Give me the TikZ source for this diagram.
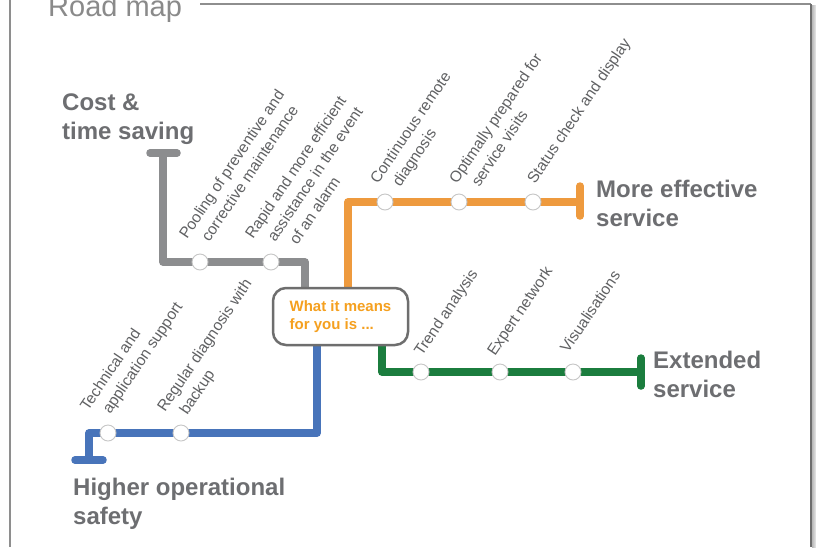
\documentclass[tikz,border=0pt]{standalone}
\usepackage{fontspec}
\setmainfont{Liberation Sans}
\usetikzlibrary{backgrounds}
\definecolor{cgray}{HTML}{8C8D8F}
\definecolor{corange}{HTML}{EE9A3E}
\definecolor{cblue}{HTML}{4874BA}
\definecolor{cgreen}{HTML}{1B7D3E}
\definecolor{stnborder}{HTML}{C6C6C6}
\definecolor{lbltext}{HTML}{606163}
\definecolor{goaltext}{HTML}{6D6E71}
\definecolor{hubtext}{HTML}{F5A01F}
\definecolor{hubborder}{HTML}{6E6E6E}
\definecolor{titlegray}{HTML}{8A8A8A}
\definecolor{framegray}{HTML}{8E8E8E}
\tikzset{
  metro/.style={line width=7.5pt, line join=round},
  tbar/.style={line width=7.5pt, line cap=round},
  stn/.style={circle, minimum size=16pt, inner sep=0pt, fill=white, draw=stnborder, line width=0.9pt},
  lbl/.style={rotate=56, anchor=base west, inner sep=0pt, text=lbltext, font=\fontsize{15.5}{20}\selectfont},
  goal/.style={anchor=base west, inner sep=0pt, text=goaltext, font=\fontsize{24}{29}\selectfont\bfseries},
  hub/.style={rounded corners=13pt, draw=hubborder, line width=2.5pt, fill=white, minimum width=135pt, minimum height=57pt, align=left, inner sep=0pt, text=hubtext, font=\fontsize{15}{18}\selectfont\bfseries},
}
\begin{document}
\begin{tikzpicture}[x=1pt,y=-1pt]
\useasboundingbox (0,0) rectangle (816,547);
% frame
\coordinate (fTL) at (10,0);
\coordinate (fBL) at (10,547);
\coordinate (fT1) at (200,4);
\coordinate (fTR) at (811,4);
\coordinate (fBR) at (811,547);
\draw[framegray, line width=1.2pt] (fTL) -- (fBL);
\draw[framegray, line width=1.2pt] (fT1) -- (fTR);
\shade[left color=gray!55, right color=gray!15] (812,5) rectangle (816,547);
\draw[hubborder, line width=1.6pt] (fTR) -- (fBR);
\node[anchor=base west, inner sep=0pt, font=\fontsize{29}{30}\selectfont, text=titlegray] (title) at (48,16) {Road map};

% hub
\node[hub] (hub) at (340.5,316.5) {What it means\\for you is ...};

% line coordinates
\coordinate (g1) at (305,262);
\coordinate (g2) at (163,262);
\coordinate (g3) at (163,153);
\coordinate (gL) at (150,153);
\coordinate (gR) at (177,153);
\coordinate (o1) at (348,202);
\coordinate (o2) at (580,202);
\coordinate (oT) at (580,186);
\coordinate (oB) at (580,216);
\coordinate (b1) at (317,433);
\coordinate (b2) at (89,433);
\coordinate (b3) at (89,460);
\coordinate (bL) at (75,460);
\coordinate (bR) at (103,460);
\coordinate (e1) at (382,372);
\coordinate (e2) at (641,372);
\coordinate (eT) at (641,358);
\coordinate (eB) at (641,386);

\begin{scope}[on background layer]
\fill[white] (0,0) rectangle (816,547);
\draw[metro, cgray] (hub.north -| g1) -- (g1) -- (g2) -- (g3);
\draw[tbar, cgray] (gL) -- (gR);
\draw[metro, corange] (hub.north -| o1) -- (o1) -- (o2);
\draw[tbar, corange] (oT) -- (oB);
\draw[metro, cblue] (hub.south -| b1) -- (b1) -- (b2) -- (b3);
\draw[tbar, cblue] (bL) -- (bR);
\draw[metro, cgreen] (hub.south -| e1) -- (e1) -- (e2);
\draw[tbar, cgreen] (eT) -- (eB);
\end{scope}

% stations
\node[stn] (sg1) at (200,262) {};
\node[stn] (sg2) at (271,262) {};
\node[stn] (so1) at (385,202) {};
\node[stn] (so2) at (459,202) {};
\node[stn] (so3) at (533,202) {};
\node[stn] (sb1) at (108,433) {};
\node[stn] (sb2) at (181,433) {};
\node[stn] (se1) at (421,372) {};
\node[stn] (se2) at (500,372) {};
\node[stn] (se3) at (573,372) {};

% station labels
\node[lbl] (lg1) at (187,240) {\vtop{\hbox{Pooling of preventive and}\hbox{\hspace*{10pt}corrective maintenance}}};
\node[lbl] (lg2) at (253,240) {\vtop{\hbox{Rapid and more efficient}\hbox{\hspace*{10pt}assistance in the event}\hbox{\hspace*{20pt}of an alarm}}};
\node[lbl] (lo1) at (378,185) {\vtop{\hbox{Continuous remote}\hbox{\hspace*{10pt}diagnosis}}};
\node[lbl] (lo2) at (457,185) {\vtop{\hbox{Optimally prepared for}\hbox{\hspace*{10pt}service visits}}};
\node[lbl] (lo3) at (535,185) {Status check and display};
\node[lbl] (lb1) at (88,412) {\vtop{\hbox{Technical and}\hbox{\hspace*{10pt}application support}}};
\node[lbl] (lb2) at (165,413) {\vtop{\hbox{Regular diagnosis with}\hbox{\hspace*{10pt}backup}}};
\node[lbl] (le1) at (422,357) {Trend analysis};
\node[lbl] (le2) at (495,357) {Expert network};
\node[lbl] (le3) at (568,354) {Visualisations};

% goals
\node[goal] (cost) at (62,110) {\vtop{\hbox{Cost \&}\hbox{time saving}}};
\node[goal] (effective) at (596,197) {\vtop{\hbox{More effective}\hbox{service}}};
\node[goal] (extended) at (653,368) {\vtop{\hbox{Extended}\hbox{service}}};
\node[goal] (safety) at (73,495) {\vtop{\hbox{Higher operational}\hbox{safety}}};
\end{tikzpicture}
\end{document}
